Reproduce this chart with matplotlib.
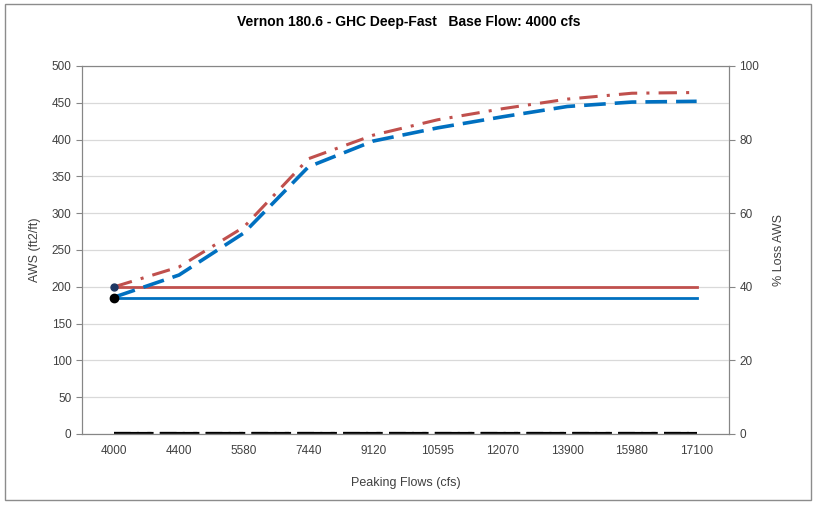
import matplotlib.pyplot as plt
from matplotlib.patches import Rectangle

plt.rcParams['font.family'] = ['Liberation Sans', 'DejaVu Sans']

# category axis labels (peaking flows, cfs)
flows = ['4000', '4400', '5580', '7440', '9120', '10595', '12070', '13900', '15980', '17100']

# AWS curves (ft2/ft)
aws_blue = [186, 216, 273, 363, 398, 416, 431, 445, 451, 452]
aws_red = [200, 227, 281, 374, 406, 427, 442, 455, 463, 464]

# base-flow reference levels (ft2/ft)
base_red = 200
base_blue = 185

# % loss AWS (secondary axis)
loss_a = [0, 0, 0, 0, 0, 0, 0, 0, 0, 0]
loss_b = [0, 0, 0, 0, 0, 0, 0, 0, 0, 0]

red = '#c0504d'
blue = '#0070c0'
grid_c = '#d9d9d9'
spine_c = '#868686'
text_c = '#404040'

fig = plt.figure(figsize=(8.18, 5.05), dpi=100)
fig.patches.append(Rectangle((5 / 818, 5 / 505), 806 / 818, 496 / 505,
                             transform=fig.transFigure, fill=False,
                             edgecolor='#8c8c8c', linewidth=1.0))

ax = fig.add_axes([82 / 818, 71 / 505, 647 / 818, 368 / 505])
x = list(range(len(flows)))

# secondary axis first so primary lines sit on top
ax2 = ax.twinx()
ax2.plot(x, loss_a, color='black', linewidth=3, linestyle=(0, (4, 1.5)))
ax2.plot(x, loss_b, color='black', linewidth=3, linestyle=(0, (6, 2, 1, 2)))
ax2.set_ylim(0, 100)
ax2.set_yticks([0, 20, 40, 60, 80, 100])
ax2.set_ylabel('% Loss AWS', fontsize=9, color=text_c, rotation=90, labelpad=10)
ax2.set_zorder(ax.get_zorder() - 1)
ax.patch.set_visible(False)

ax.plot(x, [base_red] * len(x), color=red, linewidth=2, zorder=3)
ax.plot(x, [base_blue] * len(x), color=blue, linewidth=2, zorder=3)
ax.plot(x, aws_red, color=red, linewidth=2.2, linestyle=(0, (6, 3, 1, 3)), zorder=4)
ax.plot(x, aws_blue, color=blue, linewidth=2.6, linestyle=(0, (6, 2.5)), zorder=4)
ax.plot([x[0]], [base_red], 'o', color='#1f3864', markersize=5, zorder=5)
ax.plot([x[0]], [base_blue], 'o', color='black', markersize=6, zorder=5)

ax.set_xlim(-0.5, len(flows) - 0.5)
ax.set_ylim(0, 500)
ax.set_yticks(range(0, 501, 50))
ax.set_xticks(x)
ax.set_xticklabels(flows)
ax.yaxis.grid(True, color=grid_c, linewidth=0.9)
ax.set_axisbelow(True)

for a in (ax, ax2):
    for s in a.spines.values():
        s.set_color(spine_c)
    a.tick_params(colors=spine_c, labelcolor=text_c, labelsize=8.5, length=4)
ax.tick_params(axis='x', length=0, pad=8)
ax2.spines['top'].set_visible(True)

ax.set_xlabel('Peaking Flows (cfs)', fontsize=9, color=text_c, labelpad=14)
ax.set_ylabel('AWS (ft2/ft)', fontsize=9, color=text_c, labelpad=8)

fig.text(0.5, 1 - 22 / 505, 'Vernon 180.6 - GHC Deep-Fast   Base Flow: 4000 cfs',
         ha='center', va='center', fontsize=10, fontweight='bold', color='black')

fig.savefig('out.png', dpi=100)
